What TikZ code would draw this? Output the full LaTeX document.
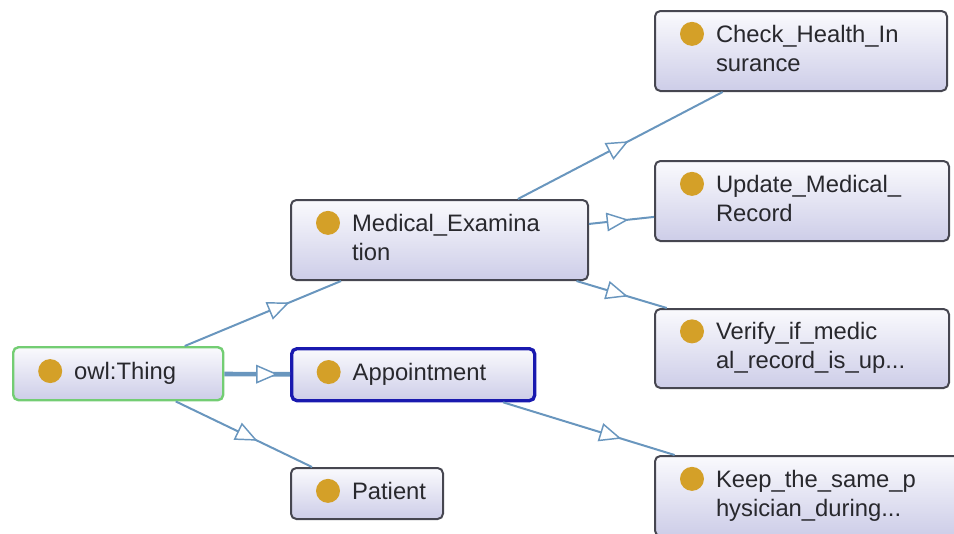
\documentclass[tikz,border=0pt]{standalone}
\usepackage{fontspec}
\setmainfont{Liberation Sans}
\usetikzlibrary{arrows.meta,decorations.markings}

\definecolor{boxtop}{RGB}{250,250,253}
\definecolor{boxbot}{RGB}{205,205,232}
\definecolor{boxline}{RGB}{70,70,80}
\definecolor{thingline}{RGB}{115,205,115}
\definecolor{apptline}{RGB}{25,25,175}
\definecolor{edgec}{RGB}{105,150,190}
\definecolor{dotc}{RGB}{212,160,40}
\definecolor{txtc}{RGB}{40,40,45}

\newcommand{\clsdot}{\tikz[baseline=-6.4pt,line width=0pt]\fill[dotc] (0,0) circle (9pt);}
\newcommand{\owlcls}[1]{\hspace*{18.75pt}\clsdot\hspace{9pt}\begin{tabular}[t]{@{}l@{}}#1\end{tabular}}

\tikzset{every picture/.style={line width=0.75pt}}
\tikzset{
  cls/.style={draw=boxline, line width=1.5pt, rounded corners=4pt, top color=boxtop, bottom color=boxbot,
    anchor=north west, inner xsep=0pt, inner ysep=0pt, align=left, text=txtc,
    font=\fontsize{17.85}{21.75}\selectfont},
  isa/.style={draw=edgec, line width=1.5pt, postaction={decorate},
    decoration={markings, mark=at position #1 with {\arrow{Triangle[fill=white, color=edgec, length=16.5pt, width=14pt, line width=1.1pt]}}}}
}

\begin{document}
\begin{tikzpicture}[x=0.75pt,y=0.75pt,yscale=-1,xscale=1]
\useasboundingbox (0,0) rectangle (954,533);
\clip (0,0) rectangle (954,533);

%Shape: Class boxes
\node[cls, minimum width=157.5pt, minimum height=39.75pt, text width=157.5pt, draw=thingline, line width=1.8pt] (thing) at (12,346) {\owlcls{owl:Thing}};
\node[cls, minimum width=222.75pt, minimum height=60pt, text width=222.75pt] (med) at (290,199) {\owlcls{Medical\_Examina\\tion}};
\node[cls, minimum width=182.25pt, minimum height=39pt, text width=182.25pt, draw=apptline, line width=2.5pt] (appt) at (290,347) {\owlcls{Appointment}};
\node[cls, minimum width=114pt, minimum height=38.25pt, text width=114pt] (patient) at (290,467) {\owlcls{Patient}};
\node[cls, minimum width=219pt, minimum height=60pt, text width=219pt] (check) at (654,10) {\owlcls{Check\_Health\_In\\surance}};
\node[cls, minimum width=220.5pt, minimum height=60pt, text width=220.5pt] (update) at (654,160) {\owlcls{Update\_Medical\_\\Record}};
\node[cls, minimum width=220.5pt, minimum height=59.25pt, text width=220.5pt] (verify) at (654,308) {\owlcls{Verify\_if\_medic\\al\_record\_is\_up...}};
\node[cls, minimum width=229.5pt, minimum height=60pt, text width=229.5pt] (keep) at (654,455) {\owlcls{Keep\_the\_same\_p\\hysician\_during...}};

%Straight Lines: subclass links
\draw[isa=0.67] (thing) -- (med);
\draw[isa=0.82, line width=3.5pt] (thing) -- (appt);
\draw[isa=0.6] (thing) -- (patient);
\draw[isa=0.54] (med) -- (check);
\draw[isa=0.61] (med) -- (update);
\draw[isa=0.57] (med) -- (verify);
\draw[isa=0.69] (appt) -- (keep);

\end{tikzpicture}
\end{document}
